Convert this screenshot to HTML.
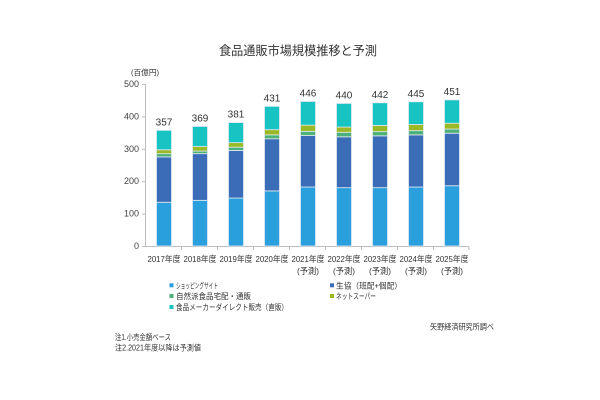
<!DOCTYPE html>
<html><head><meta charset="utf-8"><style>
html,body{margin:0;padding:0;background:#fff;}
svg{display:block;}
text{font-family:"Liberation Sans","Noto Sans CJK JP",sans-serif;fill:#333;}
</style></head><body>
<svg width="600" height="400" viewBox="0 0 600 400" xmlns="http://www.w3.org/2000/svg">
<rect width="600" height="400" fill="#fff"/>
<text x="298" y="55" font-size="12.5" text-anchor="middle" textLength="158" lengthAdjust="spacingAndGlyphs" fill="#222">食品通販市場規模推移と予測</text>
<text x="131" y="75" font-size="7.5" textLength="28" lengthAdjust="spacingAndGlyphs">(百億円)</text>
<g font-size="9" text-anchor="end">
<text x="139" y="87" style="fill:#404040">500</text>
<text x="139" y="119.4" style="fill:#404040">400</text>
<text x="139" y="151.8" style="fill:#404040">300</text>
<text x="139" y="184.2" style="fill:#404040">200</text>
<text x="139" y="216.6" style="fill:#404040">100</text>
<text x="139" y="249" style="fill:#404040">0</text>
</g>
<g stroke="#bdbdbd" stroke-width="1" fill="none">
<line x1="145.5" y1="84" x2="145.5" y2="246.5"/>
<line x1="142" y1="84.5" x2="145.5" y2="84.5"/>
<line x1="142" y1="116.9" x2="145.5" y2="116.9"/>
<line x1="142" y1="149.3" x2="145.5" y2="149.3"/>
<line x1="142" y1="181.7" x2="145.5" y2="181.7"/>
<line x1="142" y1="214.1" x2="145.5" y2="214.1"/>
<line x1="142" y1="246.5" x2="469" y2="246.5"/>
<line x1="181.5" y1="246.5" x2="181.5" y2="250"/>
<line x1="217.5" y1="246.5" x2="217.5" y2="250"/>
<line x1="253.5" y1="246.5" x2="253.5" y2="250"/>
<line x1="289.5" y1="246.5" x2="289.5" y2="250"/>
<line x1="325.5" y1="246.5" x2="325.5" y2="250"/>
<line x1="361.5" y1="246.5" x2="361.5" y2="250"/>
<line x1="397.5" y1="246.5" x2="397.5" y2="250"/>
<line x1="433.5" y1="246.5" x2="433.5" y2="250"/>
<line x1="469" y1="246.5" x2="469" y2="250"/>
</g>
<g stroke="#e3eaf0" stroke-width="0.8">
<rect x="156.5" y="202.26" width="15" height="43.74" fill="#29A0DD"/>
<rect x="156.5" y="156.90" width="15" height="45.36" fill="#3B6CB7"/>
<rect x="156.5" y="153.66" width="15" height="3.24" fill="#4DB27A"/>
<rect x="156.5" y="149.77" width="15" height="3.89" fill="#9AB924"/>
<rect x="156.5" y="130.33" width="15" height="19.44" fill="#18C3C3"/>
<rect x="192.5" y="200.32" width="15" height="45.68" fill="#29A0DD"/>
<rect x="192.5" y="153.66" width="15" height="46.66" fill="#3B6CB7"/>
<rect x="192.5" y="151.07" width="15" height="2.59" fill="#4DB27A"/>
<rect x="192.5" y="146.53" width="15" height="4.54" fill="#9AB924"/>
<rect x="192.5" y="126.44" width="15" height="20.09" fill="#18C3C3"/>
<rect x="228.5" y="198.05" width="15" height="47.95" fill="#29A0DD"/>
<rect x="228.5" y="150.42" width="15" height="47.63" fill="#3B6CB7"/>
<rect x="228.5" y="147.18" width="15" height="3.24" fill="#4DB27A"/>
<rect x="228.5" y="142.64" width="15" height="4.54" fill="#9AB924"/>
<rect x="228.5" y="122.55" width="15" height="20.09" fill="#18C3C3"/>
<rect x="264.5" y="190.92" width="15" height="55.08" fill="#29A0DD"/>
<rect x="264.5" y="138.76" width="15" height="52.16" fill="#3B6CB7"/>
<rect x="264.5" y="134.87" width="15" height="3.89" fill="#4DB27A"/>
<rect x="264.5" y="129.69" width="15" height="5.18" fill="#9AB924"/>
<rect x="264.5" y="106.36" width="15" height="23.33" fill="#18C3C3"/>
<rect x="300.5" y="187.03" width="15" height="58.97" fill="#29A0DD"/>
<rect x="300.5" y="135.51" width="15" height="51.52" fill="#3B6CB7"/>
<rect x="300.5" y="131.30" width="15" height="4.21" fill="#4DB27A"/>
<rect x="300.5" y="125.14" width="15" height="6.16" fill="#9AB924"/>
<rect x="300.5" y="101.49" width="15" height="23.65" fill="#18C3C3"/>
<rect x="336.5" y="187.68" width="15" height="58.32" fill="#29A0DD"/>
<rect x="336.5" y="136.81" width="15" height="50.87" fill="#3B6CB7"/>
<rect x="336.5" y="132.27" width="15" height="4.54" fill="#4DB27A"/>
<rect x="336.5" y="127.09" width="15" height="5.18" fill="#9AB924"/>
<rect x="336.5" y="103.44" width="15" height="23.65" fill="#18C3C3"/>
<rect x="372.5" y="187.68" width="15" height="58.32" fill="#29A0DD"/>
<rect x="372.5" y="135.84" width="15" height="51.84" fill="#3B6CB7"/>
<rect x="372.5" y="131.63" width="15" height="4.21" fill="#4DB27A"/>
<rect x="372.5" y="125.47" width="15" height="6.16" fill="#9AB924"/>
<rect x="372.5" y="102.79" width="15" height="22.68" fill="#18C3C3"/>
<rect x="408.5" y="187.03" width="15" height="58.97" fill="#29A0DD"/>
<rect x="408.5" y="134.87" width="15" height="52.16" fill="#3B6CB7"/>
<rect x="408.5" y="130.66" width="15" height="4.21" fill="#4DB27A"/>
<rect x="408.5" y="124.50" width="15" height="6.16" fill="#9AB924"/>
<rect x="408.5" y="101.82" width="15" height="22.68" fill="#18C3C3"/>
<rect x="444.5" y="185.74" width="15" height="60.26" fill="#29A0DD"/>
<rect x="444.5" y="133.25" width="15" height="52.49" fill="#3B6CB7"/>
<rect x="444.5" y="129.04" width="15" height="4.21" fill="#4DB27A"/>
<rect x="444.5" y="123.21" width="15" height="5.83" fill="#9AB924"/>
<rect x="444.5" y="99.88" width="15" height="23.33" fill="#18C3C3"/>
</g>
<g font-size="10" text-anchor="middle">
<text x="164" y="125.3">357</text>
<text x="200" y="121.4">369</text>
<text x="236" y="117.5">381</text>
<text x="272" y="101.4">431</text>
<text x="308" y="96.5">446</text>
<text x="344" y="98.4">440</text>
<text x="380" y="97.8">442</text>
<text x="416" y="96.8">445</text>
<text x="452" y="94.9">451</text>
</g>
<g font-size="8.5" text-anchor="middle">
<text x="164" y="261.8" textLength="33" lengthAdjust="spacingAndGlyphs">2017年度</text>
<text x="200" y="261.8" textLength="33" lengthAdjust="spacingAndGlyphs">2018年度</text>
<text x="236" y="261.8" textLength="33" lengthAdjust="spacingAndGlyphs">2019年度</text>
<text x="272" y="261.8" textLength="33" lengthAdjust="spacingAndGlyphs">2020年度</text>
<text x="308" y="261.8" textLength="33" lengthAdjust="spacingAndGlyphs">2021年度</text>
<text x="344" y="261.8" textLength="33" lengthAdjust="spacingAndGlyphs">2022年度</text>
<text x="380" y="261.8" textLength="33" lengthAdjust="spacingAndGlyphs">2023年度</text>
<text x="416" y="261.8" textLength="33" lengthAdjust="spacingAndGlyphs">2024年度</text>
<text x="452" y="261.8" textLength="33" lengthAdjust="spacingAndGlyphs">2025年度</text>
<text x="308" y="273.8" textLength="22" lengthAdjust="spacingAndGlyphs">(予測)</text>
<text x="344" y="273.8" textLength="22" lengthAdjust="spacingAndGlyphs">(予測)</text>
<text x="380" y="273.8" textLength="22" lengthAdjust="spacingAndGlyphs">(予測)</text>
<text x="416" y="273.8" textLength="22" lengthAdjust="spacingAndGlyphs">(予測)</text>
<text x="452" y="273.8" textLength="22" lengthAdjust="spacingAndGlyphs">(予測)</text>
</g>
<rect x="169.5" y="283.3" width="4" height="4" fill="#29A0DD"/>
<rect x="169.5" y="294" width="4" height="4" fill="#4DB27A"/>
<rect x="169.5" y="305" width="4" height="4" fill="#18C3C3"/>
<rect x="330" y="283.3" width="4" height="4" fill="#3B6CB7"/>
<rect x="330" y="294" width="4" height="4" fill="#9AB924"/>
<g font-size="8">
<text x="176" y="288.3" textLength="42" lengthAdjust="spacingAndGlyphs">ショッピングサイト</text>
<text x="176" y="299" textLength="75" lengthAdjust="spacingAndGlyphs">自然派食品宅配・通販</text>
<text x="176" y="310" textLength="112" lengthAdjust="spacingAndGlyphs">食品メーカーダイレクト販売（直販）</text>
<text x="336" y="288.3" textLength="66" lengthAdjust="spacingAndGlyphs">生協（班配+個配）</text>
<text x="336" y="299" textLength="40" lengthAdjust="spacingAndGlyphs">ネットスーパー</text>
<text x="430" y="329.5" textLength="64" lengthAdjust="spacingAndGlyphs">矢野経済研究所調べ</text>
<text x="115" y="340" textLength="56" lengthAdjust="spacingAndGlyphs">注1.小売金額ベース</text>
<text x="115" y="350.5" textLength="86" lengthAdjust="spacingAndGlyphs">注2.2021年度以降は予測値</text>
</g>
</svg>
</body></html>
